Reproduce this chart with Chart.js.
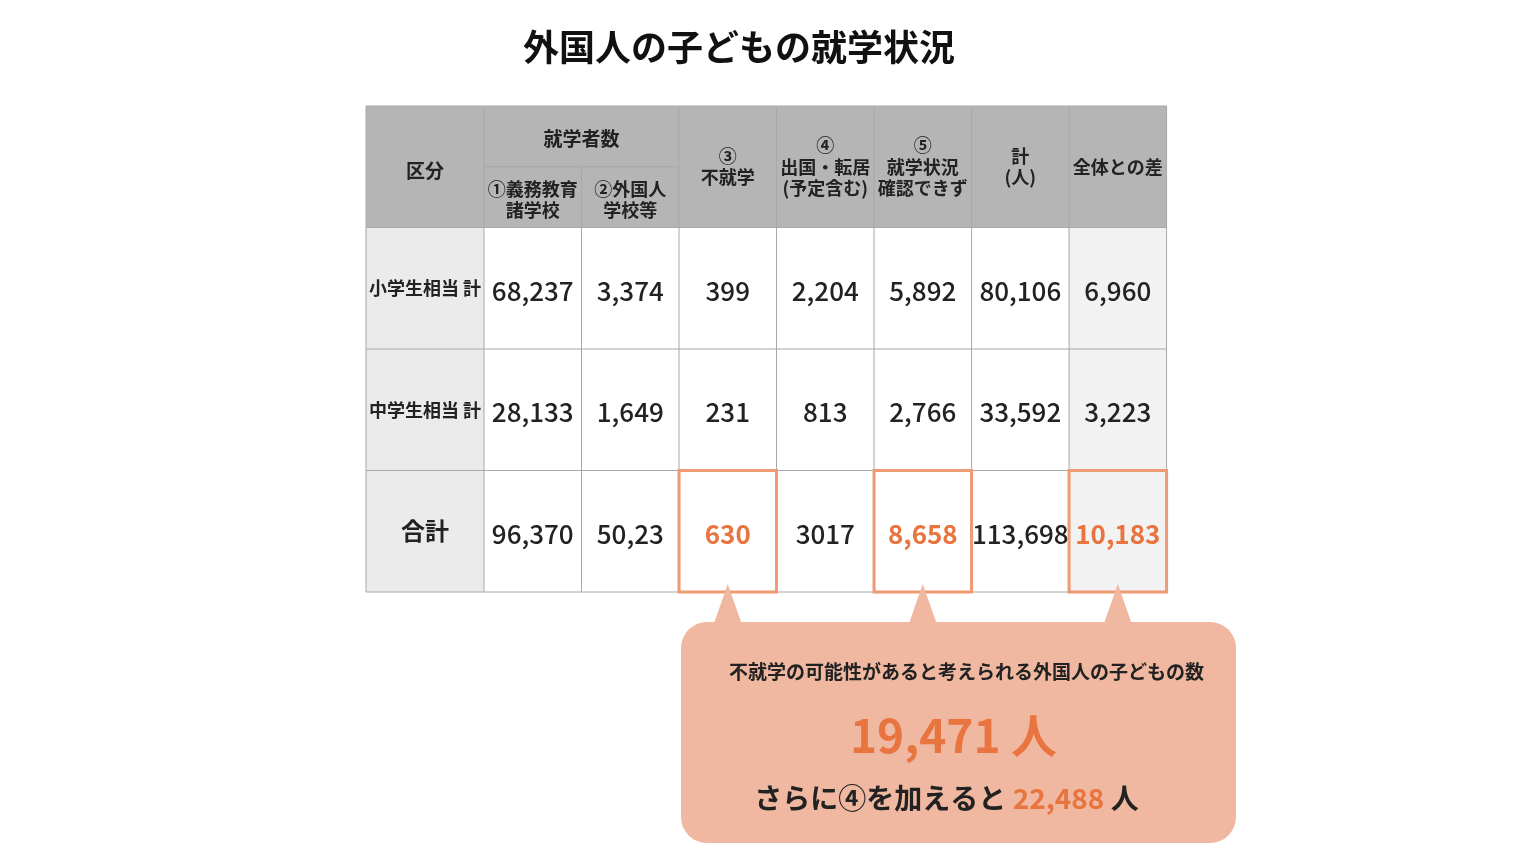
<!DOCTYPE html><html><head><meta charset="utf-8">
<script src="https://cdn.jsdelivr.net/npm/chart.js@4/dist/chart.umd.min.js"></script>
<style>html,body{margin:0;background:#fff;overflow:hidden}#w{width:1536px;height:866px}</style></head><body><div id="w"><canvas id="c"></canvas></div>
<script>
const title = "外国人の子どもの就学状況";
const rowLabels = ["小学生相当 計", "中学生相当 計", "合計"];
const colHeaders = ["区分", "③\n不就学", "④\n出国・転居\n(予定含む)", "⑤\n就学状況\n確認できず", "計\n(人)", "全体との差"];
const groupHeader = "就学者数";
const subHeaders = ["①義務教育\n諸学校", "②外国人\n学校等"];
const primary = ["68,237", "3,374", "399", "2,204", "5,892", "80,106", "6,960"];
const middle = ["28,133", "1,649", "231", "813", "2,766", "33,592", "3,223"];
const total = ["96,370", "50,23", "630", "3017", "8,658", "113,698", "10,183"];
const highlightCols = [2, 4, 6];
const calloutLine1 = "不就学の可能性があると考えられる外国人の子どもの数";
const calloutValue = "19,471";
const calloutLine3a = "さらに④を加えると ";
const calloutValue2 = "22,488";
const FONT = '"Noto Sans CJK JP","Noto Sans",sans-serif';
const ORANGE = "#e8743f";
const colEdges = [0, 1.21, 2.21, 3.21, 4.21, 5.21, 6.21, 7.21, 8.21];

const tablePlugin = {
  id: "table",
  afterDraw(chart) {
    const ctx = chart.ctx, xs = chart.scales.x, ys = chart.scales.y;
    const X = v => xs.getPixelForValue(v), Y = v => ys.getPixelForValue(v);
    const cell = (c0, c1, r0, r1, fill) => { ctx.fillStyle = fill; ctx.fillRect(X(colEdges[c0]), Y(r0), X(colEdges[c1]) - X(colEdges[c0]), Y(r1) - Y(r0)); };
    const text = (s, cx, cy, size, color, weight) => {
      ctx.fillStyle = color; ctx.font = `${weight||"bold"} ${size}px ${FONT}`;
      ctx.textAlign = "center"; ctx.textBaseline = "middle";
      const lines = s.split("\n"), lh = size * 1.2;
      lines.forEach((l, i) => ctx.fillText(l, cx, cy + (i - (lines.length - 1) / 2) * lh));
    };
    const cx = c => (X(colEdges[c]) + X(colEdges[c + 1])) / 2;
    text(title, 739, 47, 36, "#111", "bold");
    cell(0, 8, 0, 1, "#b5b5b5");
    cell(0, 1, 1, 4, "#ebebeb");
    cell(7, 8, 1, 4, "#f2f2f2");
    ctx.strokeStyle = "#a8a8a8"; ctx.lineWidth = 1;
    ctx.beginPath();
    for (let r = 0; r <= 4; r++) { ctx.moveTo(X(0), Y(r)); ctx.lineTo(X(8.21), Y(r)); }
    colEdges.forEach((e, i) => { const top = (i === 2) ? Y(0.5) : Y(0); ctx.moveTo(X(e), top); ctx.lineTo(X(e), Y(4)); });
    ctx.moveTo(X(colEdges[1]), Y(0.5)); ctx.lineTo(X(colEdges[3]), Y(0.5));
    ctx.stroke();
    text(colHeaders[0], cx(0), Y(0.53), 19, "#222");
    text(groupHeader, (X(colEdges[1]) + X(colEdges[3])) / 2, Y(0.27), 19, "#222");
    text(subHeaders[0], cx(1), Y(0.77), 18, "#222");
    text(subHeaders[1], cx(2), Y(0.77), 18, "#222");
    for (let i = 1; i < colHeaders.length; i++) text(colHeaders[i], cx(i + 2), Y(0.5), 18, "#222");
    const rows = [primary, middle, total];
    rows.forEach((row, r) => {
      const cy = Y(r + 1.52);
      text(rowLabels[r], cx(0), Y(r + 1.5), r === 2 ? 24 : 18, "#222");
      row.forEach((v, i) => {
        const hl = r === 2 && highlightCols.includes(i);
        text(v, cx(i + 1), cy, 26, hl ? ORANGE : "#222", hl ? "bold" : "500");
      });
    });
    ctx.strokeStyle = "#ee9a72"; ctx.lineWidth = 3;
    highlightCols.forEach(i => ctx.strokeRect(X(colEdges[i + 1]), Y(3), X(colEdges[i + 2]) - X(colEdges[i + 1]), Y(4) - Y(3)));
    const bx0 = 681, bx1 = 1236, by0 = Y(4) + 30, by1 = 843;
    ctx.fillStyle = "#f0b8a0";
    ctx.beginPath(); ctx.roundRect(bx0, by0, bx1 - bx0, by1 - by0, 26); ctx.fill();
    highlightCols.forEach(i => {
      const px = cx(i + 1);
      ctx.beginPath(); ctx.moveTo(px, Y(4) - 8); ctx.lineTo(px - 14, by0 + 2); ctx.lineTo(px + 14, by0 + 2); ctx.closePath(); ctx.fill();
    });
    const mx = (bx0 + bx1) / 2;
    text(calloutLine1, mx + 8, 672, 19, "#222");
    text(calloutValue + " 人", mx - 5, 736, 46, ORANGE);
    ctx.font = `bold 28px ${FONT}`;
    const w1 = ctx.measureText(calloutLine3a).width, w2 = ctx.measureText(calloutValue2).width, w3 = ctx.measureText(" 人").width;
    let sx = mx - 12 - (w1 + w2 + w3) / 2;
    ctx.textAlign = "left"; ctx.textBaseline = "middle";
    ctx.fillStyle = "#222"; ctx.fillText(calloutLine3a, sx, 798);
    ctx.fillStyle = ORANGE; ctx.fillText(calloutValue2, sx + w1, 798);
    ctx.fillStyle = "#222"; ctx.fillText(" 人", sx + w1 + w2, 798);
  }
};

const kx = 8.21 / 934, ky = 4 / 486;
new Chart(document.getElementById("c"), {
  type: "bar",
  data: { labels: [], datasets: [{ data: [] }] },
  options: {
    responsive: true, maintainAspectRatio: false, animation: false,
    layout: { padding: 0 },
    plugins: { legend: { display: false }, tooltip: { enabled: false } },
    scales: {
      x: { type: "linear", min: -299 * kx, max: 8.21 + 303 * kx, display: false },
      y: { type: "linear", min: -106 * ky, max: 4 + 274 * ky, reverse: true, display: false }
    }
  },
  plugins: [tablePlugin]
});
</script></body></html>
